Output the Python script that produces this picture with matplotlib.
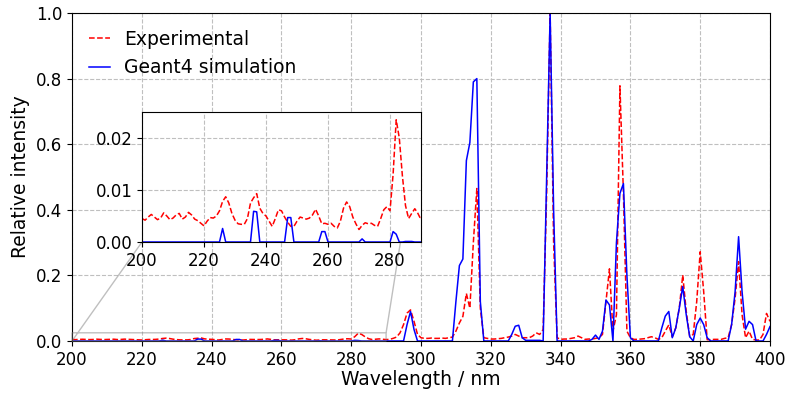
import numpy as np
import matplotlib
matplotlib.use("Agg")
import matplotlib.pyplot as plt

# wavelength grid, 1 nm steps from 200 to 400 nm
wavelength = np.arange(200, 401)

# experimental spectrum (red dashed)
experimental = [
    .0045, .0042, .0048, .0053, .0048, .0043, .0046, .0056, .0050, .0043,  # 200
    .0046, .0052, .0055, .0044, .0048, .0057, .0052, .0044, .0041, .0036,  # 210
    .0031, .0040, .0047, .0046, .0050, .0060, .0078, .0087, .0075, .0055,  # 220
    .0042, .0035, .0034, .0034, .0045, .0075, .0085, .0093, .0065, .0055,  # 230
    .0050, .0040, .0030, .0045, .0062, .0060, .0048, .0038, .0030, .0030,  # 240
    .0040, .0048, .0046, .0044, .0046, .0052, .0063, .0050, .0035, .0036,  # 250
    .0034, .0036, .0030, .0027, .0040, .0065, .0077, .0068, .0048, .0035,  # 260
    .0024, .0032, .0037, .0035, .0036, .0032, .0030, .0045, .0062, .0068,  # 270
    .0060, .0130, .0235, .0200, .0127, .0070, .0045, .0055, .0064, .0055,  # 280
    .0043, .005, .008, .012, .025, .05, .085, .095, .06, .02,              # 290
    .01, .008, .008, .009, .008, .008, .009, .008, .01, .012,              # 300
    .03, .055, .075, .145, .10, .30, .465, .10, .01, .008,                 # 310
    .006, .006, .007, .008, .01, .012, .015, .02, .015, .01,               # 320
    .01, .01, .015, .025, .02, .035, .45, 1.0, .30, .01,                   # 330
    .005, .006, .006, .008, .01, .015, .01, .005, .006, .006,              # 340
    .008, .01, .02, .12, .22, .03, .08, .778, .45, .03,                    # 350
    .01, .005, .005, .006, .007, .01, .013, .01, .005, .01,                # 360
    .03, .049, .013, .04, .10, .201, .09, .013, .02, .12,                  # 370
    .272, .15, .004, .004, .005, .005, .005, .008, .01, .05,               # 380
    .13, .242, .08, .01, .03, .005, .003, .003, .02, .084, .06,            # 390-400
]

# Geant4 simulation (blue solid)
simulation = [
    0, 0, 0, 0, 0, 0, 0, 0, 0, 0,                                  # 200
    0, 0, 0, 0, 0, 0, 0, 0, 0, 0,                                  # 210
    0, 0, 0, 0, 0, 0, .0026, 0, 0, 0,                              # 220
    0, 0, 0, 0, 0, 0, .0059, .0058, 0, 0,                          # 230
    0, 0, 0, 0, 0, 0, 0, .0047, .0047, 0,                          # 240
    0, 0, 0, 0, 0, 0, 0, 0, .002, .002,                            # 250
    0, 0, 0, 0, 0, 0, 0, 0, 0, 0,                                  # 260
    0, .0006, 0, 0, 0, 0, 0, 0, 0, 0,                              # 270
    0, .002, .0015, 0, 0, .0001, .0001, .0001, 0, 0,               # 280
    0, 0, 0, 0, 0, 0, .05, .09, .035, 0,                           # 290
    0, 0, 0, 0, 0, 0, 0, 0, 0, 0,                                  # 300
    .12, .23, .25, .55, .605, .79, .80, .12, 0, 0,                 # 310
    0, 0, 0, 0, 0, 0, .02, .045, .048, .01,                        # 320
    .002, .002, .002, .002, .002, 0, .5, 1.0, .4, 0,               # 330
    0, 0, 0, 0, 0, 0, 0, 0, 0, .005,                               # 340
    .018, .005, .03, .125, .11, 0, .3, .45, .48, .2,               # 350
    .01, 0, 0, 0, 0, 0, 0, 0, 0, .04,                              # 360
    .076, .09, .01, .04, .10, .166, .08, .013, 0, .05,             # 370
    .07, .05, .01, 0, 0, 0, 0, 0, 0, .05,                          # 380
    .15, .318, .15, .036, .06, .05, 0, 0, 0, .02, .044,            # 390-400
]

fig = plt.figure(figsize=(7.89, 3.94), dpi=100)
ax = fig.add_axes([72/789, 53/394, 698/789, 328/394])

ax.plot(wavelength, experimental, "r--", lw=1.1, label="Experimental")
ax.plot(wavelength, simulation, "b-", lw=1.1, label="Geant4 simulation")
ax.set_xlim(200, 400)
ax.set_ylim(0, 1)
ax.set_xticks(np.arange(200, 401, 20))
ax.set_yticks(np.arange(0, 1.01, 0.2))
ax.tick_params(labelsize=12)
ax.set_xlabel("Wavelength / nm", fontsize=13.5, labelpad=1)
ax.set_ylabel("Relative intensity", fontsize=13.5)
ax.grid(True, linestyle="--", color="0.75")
ax.legend(loc="upper left", frameon=False, fontsize=13.5, handlelength=1.1)

# zoomed inset for the weak lines below 290 nm
axins = fig.add_axes([142/789, 152/394, 279/789, 130/394])
axins.plot(wavelength, experimental, "r--", lw=1.1)
axins.plot(wavelength, simulation, "b-", lw=1.1)
axins.set_xlim(200, 290)
axins.set_ylim(0, 0.025)
axins.set_xticks([200, 220, 240, 260, 280])
axins.set_yticks([0, 0.01, 0.02])
axins.set_yticklabels(["0.00", "0.01", "0.02"])
axins.tick_params(labelsize=12)
axins.grid(True, linestyle="--", color="0.75")
ax.indicate_inset_zoom(axins, edgecolor="0.5")

fig.savefig("out.png", dpi=100)
